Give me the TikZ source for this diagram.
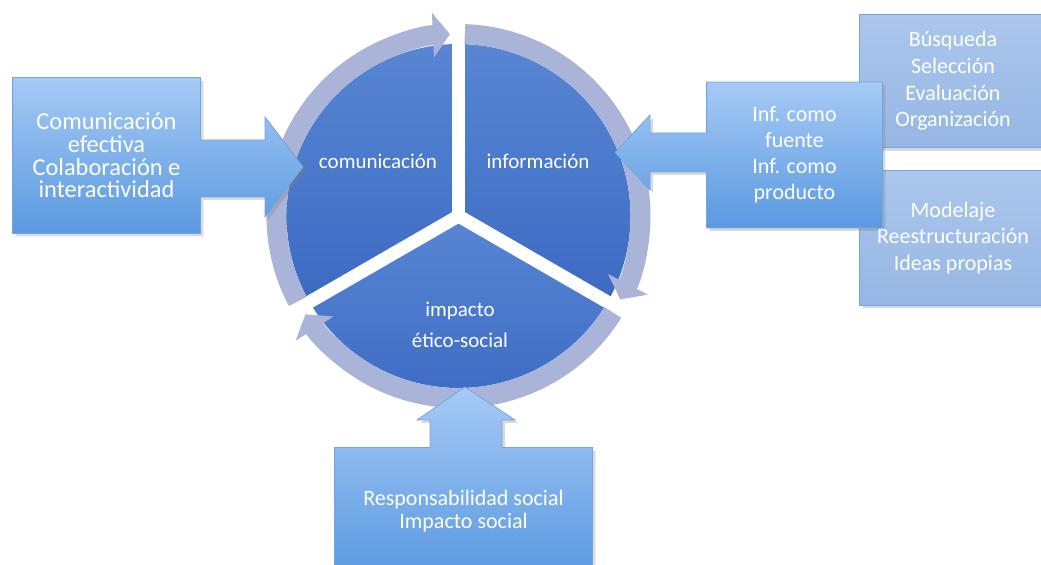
\documentclass[tikz,border=0pt]{standalone}
\usepackage{fontspec}
\setmainfont{Carlito}
\usetikzlibrary{calc, arrows.meta, shadows, backgrounds}

\definecolor{secttop}{RGB}{88,134,212}
\definecolor{sectbot}{RGB}{60,106,194}
\definecolor{ringlav}{RGB}{170,180,217}
\definecolor{boxtop}{RGB}{166,202,245}
\definecolor{boxbot}{RGB}{90,153,225}
\definecolor{boxedge}{RGB}{118,164,220}
\definecolor{sidetop}{RGB}{170,198,236}
\definecolor{sidebot}{RGB}{150,183,228}

\begin{document}
\begin{tikzpicture}[x=0.5pt, y=0.5pt,
    lbl/.style={text=white, align=center, font=\fontsize{10.5}{15.5}\selectfont},
    boxtxt/.style={text=white, align=center, inner sep=0pt},
    callout/.style={top color=boxtop, bottom color=boxbot, draw=boxedge, line width=0.4pt,
        drop shadow={opacity=0.3, shadow xshift=1.5pt, shadow yshift=-1.5pt}},
    sidebox/.style={top color=sidetop, bottom color=sidebot, draw=boxedge, line width=0.4pt,
        drop shadow={opacity=0.3, shadow xshift=1.5pt, shadow yshift=-1.5pt}},
    sector/.style={top color=secttop, bottom color=sectbot},
    gap/.style={draw=white, line width=6.5pt, line cap=round},
    ringarc/.style={draw=ringlav, line width=10pt, -{Triangle[width=22pt, length=8.5pt]}}]
    \useasboundingbox (0,0) rectangle (1041,-565);

    \coordinate (C) at (458.5,-216);

    % texts
    \node[lbl] (comm) at (378,-161) {comunicación};
    \node[lbl] (info) at (538,-161) {información};
    \node[lbl] (imp) at (460,-324.5) {impacto\\ético-social};

    \node[boxtxt, minimum width=93.5pt, minimum height=77.5pt, font=\fontsize{12.2}{11.4}\selectfont]
        (lbox) at (106.5,-155.5) {Comunicación\\efectiva\\Colaboración e\\interactividad};
    \node[boxtxt, minimum width=87.5pt, minimum height=72.5pt, font=\fontsize{11}{13}\selectfont]
        (ibox) at (794.5,-155) {Inf. como\\fuente\\Inf. como\\producto};
    \node[boxtxt, minimum width=93pt, minimum height=66.5pt, font=\fontsize{11}{13.3}\selectfont]
        (sbox1) at (953,-81) {Búsqueda\\Selección\\Evaluación\\Organización};
    \node[boxtxt, minimum width=93pt, minimum height=67pt, font=\fontsize{11}{13.3}\selectfont]
        (sbox2) at (953,-238) {Modelaje\\Reestructuración\\Ideas propias};
    \node[boxtxt, minimum width=128.5pt, minimum height=63.5pt, font=\fontsize{11}{11.5}\selectfont]
        (bbox) at (463.5,-511.5) {Responsabilidad social\\Impacto social};

    \coordinate (ltip) at (303,-167);
    \coordinate (itip) at (615,-152.5);
    \coordinate (btip) at (465,-387);

    \begin{pgfonlayer}{background}
    % cycle
    \foreach \a in {90,210,330}
        \path[sector] (C) -- ($(C)+(\a:172)$) arc[start angle=\a, delta angle=120, radius=172] -- cycle;
    \foreach \a in {90,210,330}
        \draw[gap] (C) -- ($(C)+(\a:176)$);
    \foreach \s/\e in {208/92.7, 88/-27.3, -32/-147.3}
        \draw[ringarc] ($(C)+(\s:182)$) arc[start angle=\s, end angle=\e, radius=182];

    % boxes
    \path[sidebox] (sbox1.south west) rectangle (sbox1.north east);
    \path[sidebox] (sbox2.south west) rectangle (sbox2.north east);

    \path[callout] (lbox.north west) -- (lbox.north east) -- (lbox.east |- 0,-140)
        -- (265,-140) -- (265,-117) -- (ltip) -- (265,-217) -- (265,-197)
        -- (lbox.east |- 0,-197) -- (lbox.south east) -- (lbox.south west) -- cycle;
    \path[callout] (ibox.north east) -- (ibox.north west) -- (ibox.west |- 0,-133)
        -- (650,-133) -- (650,-115) -- (itip) -- (650,-190) -- (650,-172)
        -- (ibox.west |- 0,-172) -- (ibox.south west) -- (ibox.south east) -- cycle;
    \path[callout] (bbox.south west) -- (bbox.north west) -- (bbox.north -| 430,0)
        -- (430,-420) -- (417,-420) -- (btip) -- (515,-420) -- (502,-420)
        -- (bbox.north -| 502,0) -- (bbox.north east) -- (bbox.south east) -- cycle;
    \end{pgfonlayer}
\end{tikzpicture}
\end{document}
